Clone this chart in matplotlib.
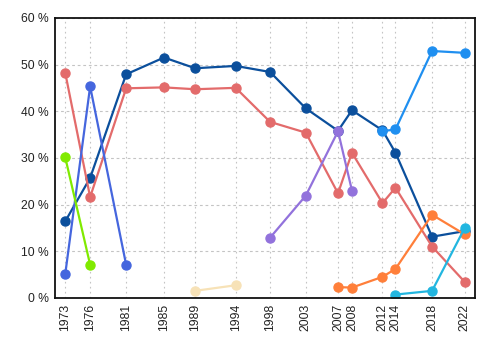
import matplotlib
matplotlib.use("Agg")
import matplotlib.pyplot as plt
import pandas as pd
import numpy as np

plt.rcParams['font.family'] = ['Liberation Sans', 'DejaVu Sans']

# election dates (x positions follow the actual dates)
dates = ["1973-10-29", "1976-11-15", "1981-04-13", "1985-12-02", "1989-09-25",
         "1994-09-12", "1998-11-30", "2003-04-14", "2007-03-26", "2008-12-08",
         "2012-09-04", "2014-04-07", "2018-10-01", "2022-10-03"]
year_labels = ["1973", "1976", "1981", "1985", "1989", "1994", "1998", "2003",
               "2007", "2008", "2012", "2014", "2018", "2022"]

# values in %, None where the party did not run
dark_blue = [16.4, 25.7, 47.9, 51.5, 49.2, 49.7, 48.4, 40.6, 35.8, 40.2, 35.9, 31.1, 13.1, 14.3]
salmon = [48.2, 21.6, 44.9, 45.1, 44.7, 45.0, 37.7, 35.4, 22.4, 31.1, 20.3, 23.6, 11.0, 3.4]
royal_blue = [5.1, 45.3, 7.1] + [None] * 11
green = [30.1, 7.1] + [None] * 12
wheat = [None] * 4 + [1.5, 2.7] + [None] * 8
purple = [None] * 6 + [12.9, 21.9, 35.7, 23.0] + [None] * 4
orange = [None] * 8 + [2.3, 2.2, 4.5, 6.2, 17.8, 13.6]
light_blue = [None] * 10 + [35.7, 36.1, 52.9, 52.5]
cyan = [None] * 11 + [0.7, 1.5, 15.0]

x = pd.to_datetime(dates)


def to_arr(vals):
    return np.array([np.nan if v is None else v for v in vals], dtype=float)


fig = plt.figure(figsize=(5, 3.5), dpi=100)
ax = fig.add_axes([0.109, 0.149, 0.841, 0.800])

series = [
    (dark_blue, "#0b4f9c"),
    (salmon, "#e36b6b"),
    (royal_blue, "#4566de"),
    (green, "#80ea00"),
    (wheat, "#f7e2b7"),
    (purple, "#9272dc"),
    (orange, "#ff7f3a"),
    (light_blue, "#1f8ff0"),
    (cyan, "#22b6e0"),
]
for vals, col in series:
    ax.plot(x, to_arr(vals), color=col, lw=1.6, marker="o", markersize=6.5,
            solid_capstyle="round")

ax.set_ylim(0, 60)
ax.set_yticks(range(0, 61, 10))
ax.set_yticklabels(["%d %%" % v for v in range(0, 61, 10)])
ax.set_xlim(pd.Timestamp("1972-07-05"), pd.Timestamp("2024-01-03"))
ax.set_xticks(x)
ax.set_xticklabels(year_labels, rotation=90)
ax.tick_params(axis="both", length=0, labelsize=8.7, colors="#222222", pad=4)

ax.grid(axis="y", color="#c4c4c4", linestyle=(0, (2.5, 2.5)), lw=0.8)
ax.grid(axis="x", color="#c4c4c4", linestyle=(0, (1.5, 3)), lw=0.8)
ax.set_axisbelow(True)
for s in ax.spines.values():
    s.set_color("#111111")
    s.set_linewidth(1.3)

fig.savefig("out.png", dpi=100)
